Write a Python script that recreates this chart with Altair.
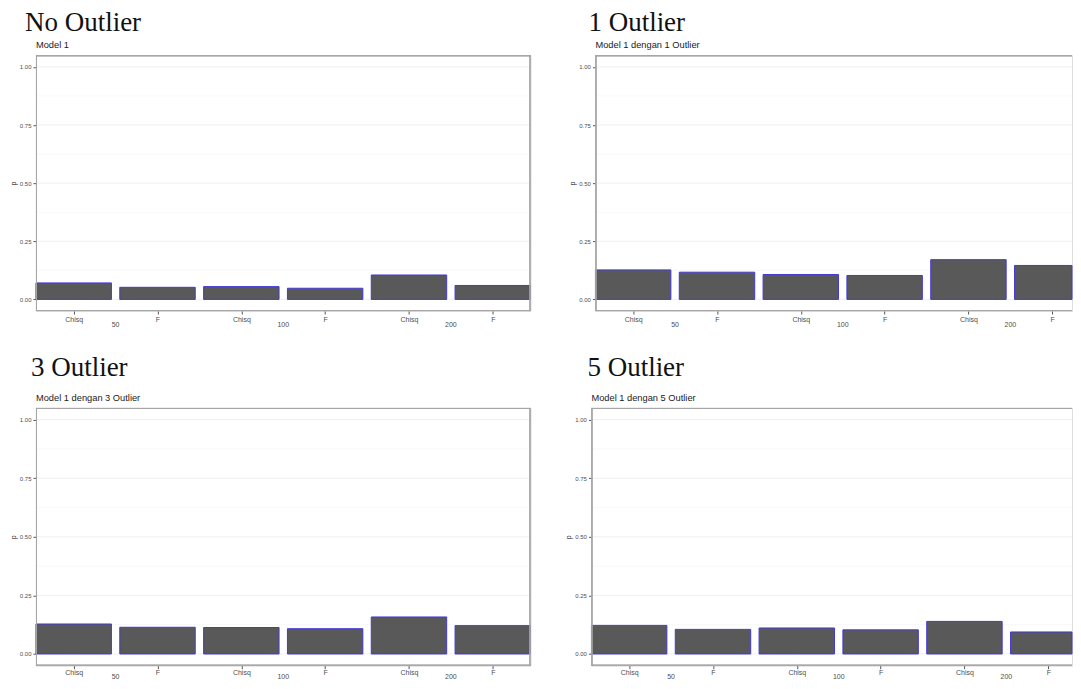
import altair as alt
import pandas as pd

sizes = ["50", "100", "200"]
tests = ["Chisq", "F"]
panel_titles = ["No Outlier", "1 Outlier", "3 Outlier", "5 Outlier"]
panel_subtitles = ["Model 1", "Model 1 dengan 1 Outlier",
                   "Model 1 dengan 3 Outlier", "Model 1 dengan 5 Outlier"]
# p value per (size, test): 50-Chisq, 50-F, 100-Chisq, 100-F, 200-Chisq, 200-F
p_no_outlier = [0.071, 0.052, 0.055, 0.048, 0.105, 0.060]
p_1_outlier = [0.127, 0.117, 0.107, 0.103, 0.171, 0.146]
p_3_outlier = [0.128, 0.114, 0.113, 0.108, 0.158, 0.121]
p_5_outlier = [0.122, 0.105, 0.111, 0.103, 0.139, 0.094]
y_ticks = [0.0, 0.25, 0.5, 0.75, 1.0]
major_grid = [0.0, 0.25, 0.5, 0.75, 1.0]
minor_grid = [0.125, 0.375, 0.625, 0.875]

keys = [f"{s}_{t}" for s in sizes for t in tests]
BAND = 0.9                      # ggplot bar width (share of one category step)
N_STEPS = len(keys) - (1 - BAND)  # categorical extent with no outer padding
FULL_W = 495                    # full width of every ggplot panel (right ones are cut by the page edge)


def panel(title, subtitle, values, w, h, title_dx, title_offset, label_pad, group_dy, cut):
    df = pd.DataFrame({
        "key": keys,
        "idx": list(range(len(keys))),
        "test": [t for s in sizes for t in tests],
        "p": values,
    })
    grp = pd.DataFrame({"idx": [keys.index(f"{s}_F") for s in sizes], "size": sizes})

    xscale = alt.Scale(domain=[0, N_STEPS * w / FULL_W], nice=False, zero=False, clamp=True)
    yscale = alt.Scale(domain=[-0.05, 1.05], nice=False, zero=False)
    test_arr = "[" + ",".join(f"'{t}'" for t in tests) + "]"
    xaxis = alt.Axis(title=None, values=[i + BAND / 2 for i in range(len(keys))],
                     labelExpr=f"{test_arr}[round(datum.value - {BAND / 2}) % {len(tests)}]",
                     labelAngle=0, labelFontSize=7, labelColor="#4d4d4d",
                     labelFont="Liberation Sans", tickSize=3, labelFlush=False,
                     labelOverlap=False, tickColor="#555555", labelPadding=label_pad,
                     domain=False, grid=False)
    yaxis = alt.Axis(values=y_ticks, format=".2f", title="p",
                     labelFontSize=6, labelColor="#4d4d4d",
                     labelFont="Liberation Sans", tickSize=3,
                     tickColor="#555555", labelPadding=2, domain=False,
                     grid=False, titleFontSize=7, titleFontWeight="normal",
                     titleFont="Liberation Sans", titlePadding=3,
                     titleColor="#222222")

    grid_major = alt.Chart(pd.DataFrame({"p": major_grid})).mark_rule(
        color="#ebebeb", strokeWidth=0.8
    ).encode(y=alt.Y("p:Q", scale=yscale, axis=yaxis))
    grid_minor = alt.Chart(pd.DataFrame({"p": minor_grid})).mark_rule(
        color="#f4f4f4", strokeWidth=0.6
    ).encode(y=alt.Y("p:Q", scale=yscale, axis=yaxis))

    bars = alt.Chart(df).transform_calculate(
        x_end=f"datum.idx + {BAND}"
    ).mark_bar(
        fill="#595959", stroke="#4338d6", strokeWidth=1
    ).encode(
        x=alt.X("idx:Q", scale=xscale, axis=xaxis),
        x2="x_end:Q",
        y=alt.Y("p:Q", scale=yscale, axis=yaxis),
        y2=alt.datum(0),
    )

    border = "#a6a6a6"
    edges = [
        alt.Chart(grp).mark_rule(color=border, strokeWidth=1).encode(
            x=alt.value(0), x2=alt.value(w), y=alt.value(0.5)),
        alt.Chart(grp).mark_rule(color=border, strokeWidth=1).encode(
            x=alt.value(0), x2=alt.value(w), y=alt.value(h - 0.5)),
        alt.Chart(grp).mark_rule(color=border, strokeWidth=1).encode(
            x=alt.value(0.5), y=alt.value(0), y2=alt.value(h)),
    ]
    if not cut:
        edges.append(alt.Chart(grp).mark_rule(color=border, strokeWidth=1).encode(
            x=alt.value(w - 0.5), y=alt.value(0), y2=alt.value(h)))

    group_labels = alt.Chart(grp).transform_calculate(
        x_mid=f"datum.idx - {(1 - BAND) / 2}"
    ).mark_text(
        fontSize=7, font="Liberation Sans", color="#4d4d4d",
        baseline="middle", align="center"
    ).encode(
        x=alt.X("x_mid:Q", scale=xscale, axis=xaxis),
        y=alt.value(h + group_dy),
        text="size:N",
    )

    sub = alt.Chart(pd.DataFrame({"t": [subtitle]})).mark_text(
        fontSize=9.3, font="Liberation Sans", color="#1a1a1a", align="left",
        baseline="alphabetic"
    ).encode(x=alt.value(0), y=alt.value(-7), text="t:N")

    return alt.layer(grid_minor, grid_major, bars, *edges, group_labels, sub).properties(
        width=w, height=h,
        title=alt.Title(title, font="Liberation Serif", fontSize=27,
                        fontWeight="normal", color="#111111", anchor="start",
                        frame="group", dx=title_dx, offset=title_offset),
    )


p1 = panel(panel_titles[0], panel_subtitles[0], p_no_outlier, 495, 256, -11, 4, 1, 14, False)
p2 = panel(panel_titles[1], panel_subtitles[1], p_1_outlier, 477, 256, -7, 4, 1, 14, True)
p3 = panel(panel_titles[2], panel_subtitles[2], p_3_outlier, 495, 258, -5, 12, 0, 11, False)
p4 = panel(panel_titles[3], panel_subtitles[3], p_5_outlier, 481, 258, -4, 12, 0, 11, True)

chart = alt.vconcat(
    alt.hconcat(p1, p2, spacing=36),
    alt.hconcat(p3, p4, spacing=32),
    spacing=24,
).configure_view(stroke=None).configure(padding=0, background="white")

chart.save("out.html", embed_options={"renderer": "svg", "actions": False})
